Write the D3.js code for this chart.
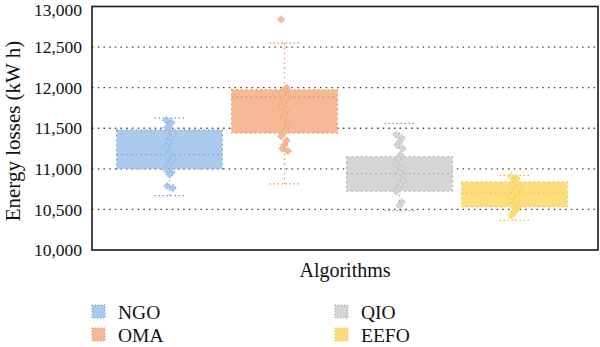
<!DOCTYPE html>
<html>
<head>
<meta charset="utf-8">
<script src="https://cdn.jsdelivr.net/npm/d3@7"></script>
<style>
  body { margin: 0; background: #fff; }
  text { font-family: "Liberation Serif", "Times New Roman", serif; fill: #111; }
</style>
</head>
<body>
<div id="chart"></div>
<script>
const CATEGORIES = ["NGO", "OMA", "QIO", "EEFO"];
const Q1 = [11000, 11440, 10725, 10530];
const MEDIAN = [11175, 11885, 10940, 10700];
const Q3 = [11480, 11975, 11150, 10840];
const WHISKER_LOW = [10670, 10815, 10485, 10365];
const WHISKER_HIGH = [11625, 12550, 11560, 10920];

const NGO_POINTS = [11600, 11570, 11540, 11510, 11440, 11380, 11320, 11270, 11230, 11190, 11160, 11120, 11080, 11040, 10990, 10955, 10930, 10790, 10765];
const OMA_POINTS = [12840, 12000, 11975, 11940, 11900, 11860, 11820, 11770, 11720, 11660, 11600, 11540, 11480, 11440, 11400, 11350, 11300, 11250, 11220];
const QIO_POINTS = [11420, 11380, 11330, 11290, 11250, 11170, 11120, 11060, 11000, 10950, 10900, 10850, 10800, 10760, 10720, 10590, 10550];
const EEFO_POINTS = [10905, 10880, 10840, 10800, 10760, 10720, 10690, 10660, 10620, 10580, 10550, 10520, 10490, 10455, 10425];
const POINTS = [NGO_POINTS, OMA_POINTS, QIO_POINTS, EEFO_POINTS];

const Y_TICKS = [10000, 10500, 11000, 11500, 12000, 12500, 13000];

const FILL = ["#aac9ec", "#f6b995", "#d5d5d5", "#fcdc7c"];
const STROKE = ["#6a98d2", "#e8884f", "#9d9d9d", "#efbd30"];

const WIDTH = 600;
const HEIGHT = 347;
const PLOT = { LEFT: 92, RIGHT: 598, TOP: 6.5, BOTTOM: 250 };

const svg = d3.select("#chart").append("svg")
  .attr("width", WIDTH)
  .attr("height", HEIGHT);

const x = d3.scaleBand()
  .domain(CATEGORIES)
  .range([112, 572])
  .paddingInner(0.08)
  .paddingOuter(0.04);

const y = d3.scaleLinear()
  .domain([10000, 13000])
  .range([PLOT.BOTTOM, PLOT.TOP]);

// dotted horizontal grid, behind the boxes
svg.append("g")
  .selectAll("line")
  .data(Y_TICKS.slice(1, -1))
  .join("line")
  .attr("x1", PLOT.LEFT)
  .attr("x2", PLOT.RIGHT)
  .attr("y1", d => y(d))
  .attr("y2", d => y(d))
  .attr("stroke", "#444")
  .attr("stroke-width", 1.3)
  .attr("stroke-dasharray", "1.5,4.2");

// y axis labels only, no tick marks
const yAxis = d3.axisLeft(y)
  .tickValues(Y_TICKS)
  .tickFormat(d3.format(","))
  .tickSize(0)
  .tickPadding(10);

const yAxisG = svg.append("g")
  .attr("transform", "translate(" + PLOT.LEFT + ",0)")
  .call(yAxis);
yAxisG.select(".domain").remove();
yAxisG.selectAll("text")
  .style("font-size", "17.5px")
  .style("font-family", "Liberation Serif, serif")
  .attr("fill", "#111");
// keep the top label inside the page
yAxisG.selectAll("text")
  .filter(d => d === 13000)
  .attr("dy", "0.5em");

const boxes = svg.append("g")
  .selectAll("g")
  .data(CATEGORIES)
  .join("g");

// whiskers
boxes.append("line")
  .attr("x1", d => x(d) + x.bandwidth() / 2)
  .attr("x2", d => x(d) + x.bandwidth() / 2)
  .attr("y1", (d, i) => y(WHISKER_LOW[i]))
  .attr("y2", (d, i) => y(WHISKER_HIGH[i]))
  .attr("stroke", (d, i) => STROKE[i])
  .attr("stroke-width", 1.3)
  .attr("stroke-dasharray", "1.3,3.5");

// whisker caps
[WHISKER_LOW, WHISKER_HIGH].forEach(vals => {
  boxes.append("line")
    .attr("x1", d => x(d) + x.bandwidth() / 2 - 15)
    .attr("x2", d => x(d) + x.bandwidth() / 2 + 15)
    .attr("y1", (d, i) => y(vals[i]))
    .attr("y2", (d, i) => y(vals[i]))
    .attr("stroke", (d, i) => STROKE[i])
    .attr("stroke-width", 1.3)
    .attr("stroke-dasharray", "1.5,2.5");
});

// interquartile boxes
boxes.append("rect")
  .attr("x", d => x(d))
  .attr("width", x.bandwidth())
  .attr("y", (d, i) => y(Q3[i]))
  .attr("height", (d, i) => y(Q1[i]) - y(Q3[i]))
  .attr("fill", (d, i) => FILL[i])
  .attr("stroke", (d, i) => STROKE[i])
  .attr("stroke-width", 1.2)
  .attr("stroke-dasharray", "1.3,3.5");

// medians
boxes.append("line")
  .attr("x1", d => x(d))
  .attr("x2", d => x(d) + x.bandwidth())
  .attr("y1", (d, i) => y(MEDIAN[i]))
  .attr("y2", (d, i) => y(MEDIAN[i]))
  .attr("stroke", (d, i) => STROKE[i])
  .attr("stroke-width", 1.3)
  .attr("stroke-dasharray", "1.3,3.5");

// sample points as small diamonds, nudged sideways so the column zig-zags
const diamond = d3.symbol().type(d3.symbolSquare).size(28);
boxes.each(function (cat, i) {
  const cx = x(cat) + x.bandwidth() / 2;
  d3.select(this).selectAll("path.pt")
    .data(POINTS[i])
    .join("path")
    .attr("class", "pt")
    .attr("d", diamond)
    .attr("transform", (v, j) => {
      const dx = ((j * 5) % 7 - 3) * 1.1;
      return "translate(" + (cx + dx) + "," + y(v) + ") rotate(45)";
    })
    .attr("fill", FILL[i])
    .attr("stroke", STROKE[i])
    .attr("stroke-width", 0.9)
    .attr("stroke-dasharray", "1,2");
});

// plot frame
svg.append("rect")
  .attr("x", PLOT.LEFT)
  .attr("y", PLOT.TOP)
  .attr("width", PLOT.RIGHT - PLOT.LEFT)
  .attr("height", PLOT.BOTTOM - PLOT.TOP)
  .attr("fill", "none")
  .attr("stroke", "#1a1a1a")
  .attr("stroke-width", 1.6);

// axis titles
svg.append("text")
  .attr("x", (PLOT.LEFT + PLOT.RIGHT) / 2)
  .attr("y", 277)
  .attr("text-anchor", "middle")
  .style("font-size", "20px")
  .text("Algorithms");

svg.append("text")
  .attr("transform", "translate(20," + 131 + ") rotate(-90)")
  .attr("text-anchor", "middle")
  .style("font-size", "21px")
  .text("Energy losses (kW h)");

// legend, two columns
const LEGEND_POS = [[92, 305], [92, 328], [335, 305], [335, 328]];
const legend = svg.append("g")
  .selectAll("g")
  .data(CATEGORIES)
  .join("g")
  .attr("transform", (d, i) => "translate(" + LEGEND_POS[i][0] + "," + LEGEND_POS[i][1] + ")");

legend.append("rect")
  .attr("width", 13)
  .attr("height", 13)
  .attr("fill", (d, i) => FILL[i])
  .attr("stroke", (d, i) => STROKE[i])
  .attr("stroke-width", 1)
  .attr("stroke-dasharray", "1,2");

legend.append("text")
  .attr("x", 26)
  .attr("y", 13.5)
  .style("font-size", "19.5px")
  .text(d => d);
</script>
</body>
</html>
